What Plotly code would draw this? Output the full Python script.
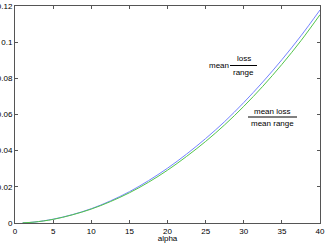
import plotly.graph_objects as go

alpha = [1, 2.5, 5, 7.5, 10, 12.5, 15, 17.5, 20, 22.5, 25, 27.5, 30, 32.5, 35, 37.5, 40]
mean_ratio = [0.0001, 0.0005, 0.0021, 0.0046, 0.0079, 0.0122, 0.0173, 0.0234, 0.0303,
              0.0381, 0.0467, 0.0561, 0.0666, 0.0780, 0.0903, 0.1035, 0.1178]
ratio_means = [0.0001, 0.0005, 0.0020, 0.0045, 0.0077, 0.0118, 0.0167, 0.0225, 0.0292,
               0.0368, 0.0451, 0.0543, 0.0645, 0.0756, 0.0877, 0.1008, 0.1152]

x_ticks = [0, 5, 10, 15, 20, 25, 30, 35, 40]
y_ticks = [0, 0.02, 0.04, 0.06, 0.08, 0.1, 0.12]
y_tick_text = ["0", "0.02", "0.04", "0.06", "0.08", "0.1", "0.12"]

fig = go.Figure()
fig.add_trace(go.Scatter(x=alpha, y=mean_ratio, mode="lines", line=dict(color="#7383ff", width=1, shape="spline")))
fig.add_trace(go.Scatter(x=alpha, y=ratio_means, mode="lines", line=dict(color="#52c44a", width=1, shape="spline")))

W, H = 327, 243
L, R, T, B = 15, 7, 6, 20
pw, ph = W - L - R, H - T - B

def px(x):
    return (x - L) / pw

def py(y):
    return 1 - (y - T) / ph

FAM = "Liberation Sans, Arial, sans-serif"
font = dict(family=FAM, size=8, color="#000")
anns = [
    dict(text="mean", x=px(218.5), y=py(65)),
    dict(text="loss", x=px(243.5), y=py(59)),
    dict(text="range", x=px(243.5), y=py(72)),
    dict(text="mean loss", x=px(272), y=py(111)),
    dict(text="mean range", x=px(272), y=py(123)),
]
fig.update_layout(annotations=[dict(a, xref="paper", yref="paper", showarrow=False,
                                     xanchor="center", yanchor="middle", font=font) for a in anns])
shapes = [
    dict(type="line", xref="paper", yref="paper", x0=px(230), x1=px(257), y0=py(65.5), y1=py(65.5),
         line=dict(color="#000", width=1)),
    dict(type="line", xref="paper", yref="paper", x0=px(248), x1=px(297), y0=py(117), y1=py(117),
         line=dict(color="#000", width=1)),
]
fig.update_layout(shapes=shapes)

axis_common = dict(showgrid=False, zeroline=False, showline=True, linecolor="#555", linewidth=1,
                   mirror="ticks", ticks="inside", ticklen=3, tickcolor="#555",
                   tickfont=dict(family=FAM, size=8, color="#000"),
                   automargin=False)
fig.update_xaxes(range=[0, 40], tickvals=x_ticks, title=dict(text="alpha", standoff=1,
                 font=dict(family=FAM, size=8, color="#000")),
                 **axis_common)
fig.update_yaxes(range=[0, 0.12], tickvals=y_ticks, ticktext=y_tick_text, **axis_common)

fig.update_layout(width=W, height=H, margin=dict(l=L, r=R, t=T, b=B), showlegend=False,
                  plot_bgcolor="white", paper_bgcolor="white")
fig.write_html("out.html", config={"displayModeBar": False, "staticPlot": True})

with open("out.html", "r", encoding="utf-8") as f:
    html = f.read()
html = html.replace("<head>", "<head><style>html,body{margin:0;padding:0;overflow:hidden;}</style>", 1)
with open("out.html", "w", encoding="utf-8") as f:
    f.write(html)
